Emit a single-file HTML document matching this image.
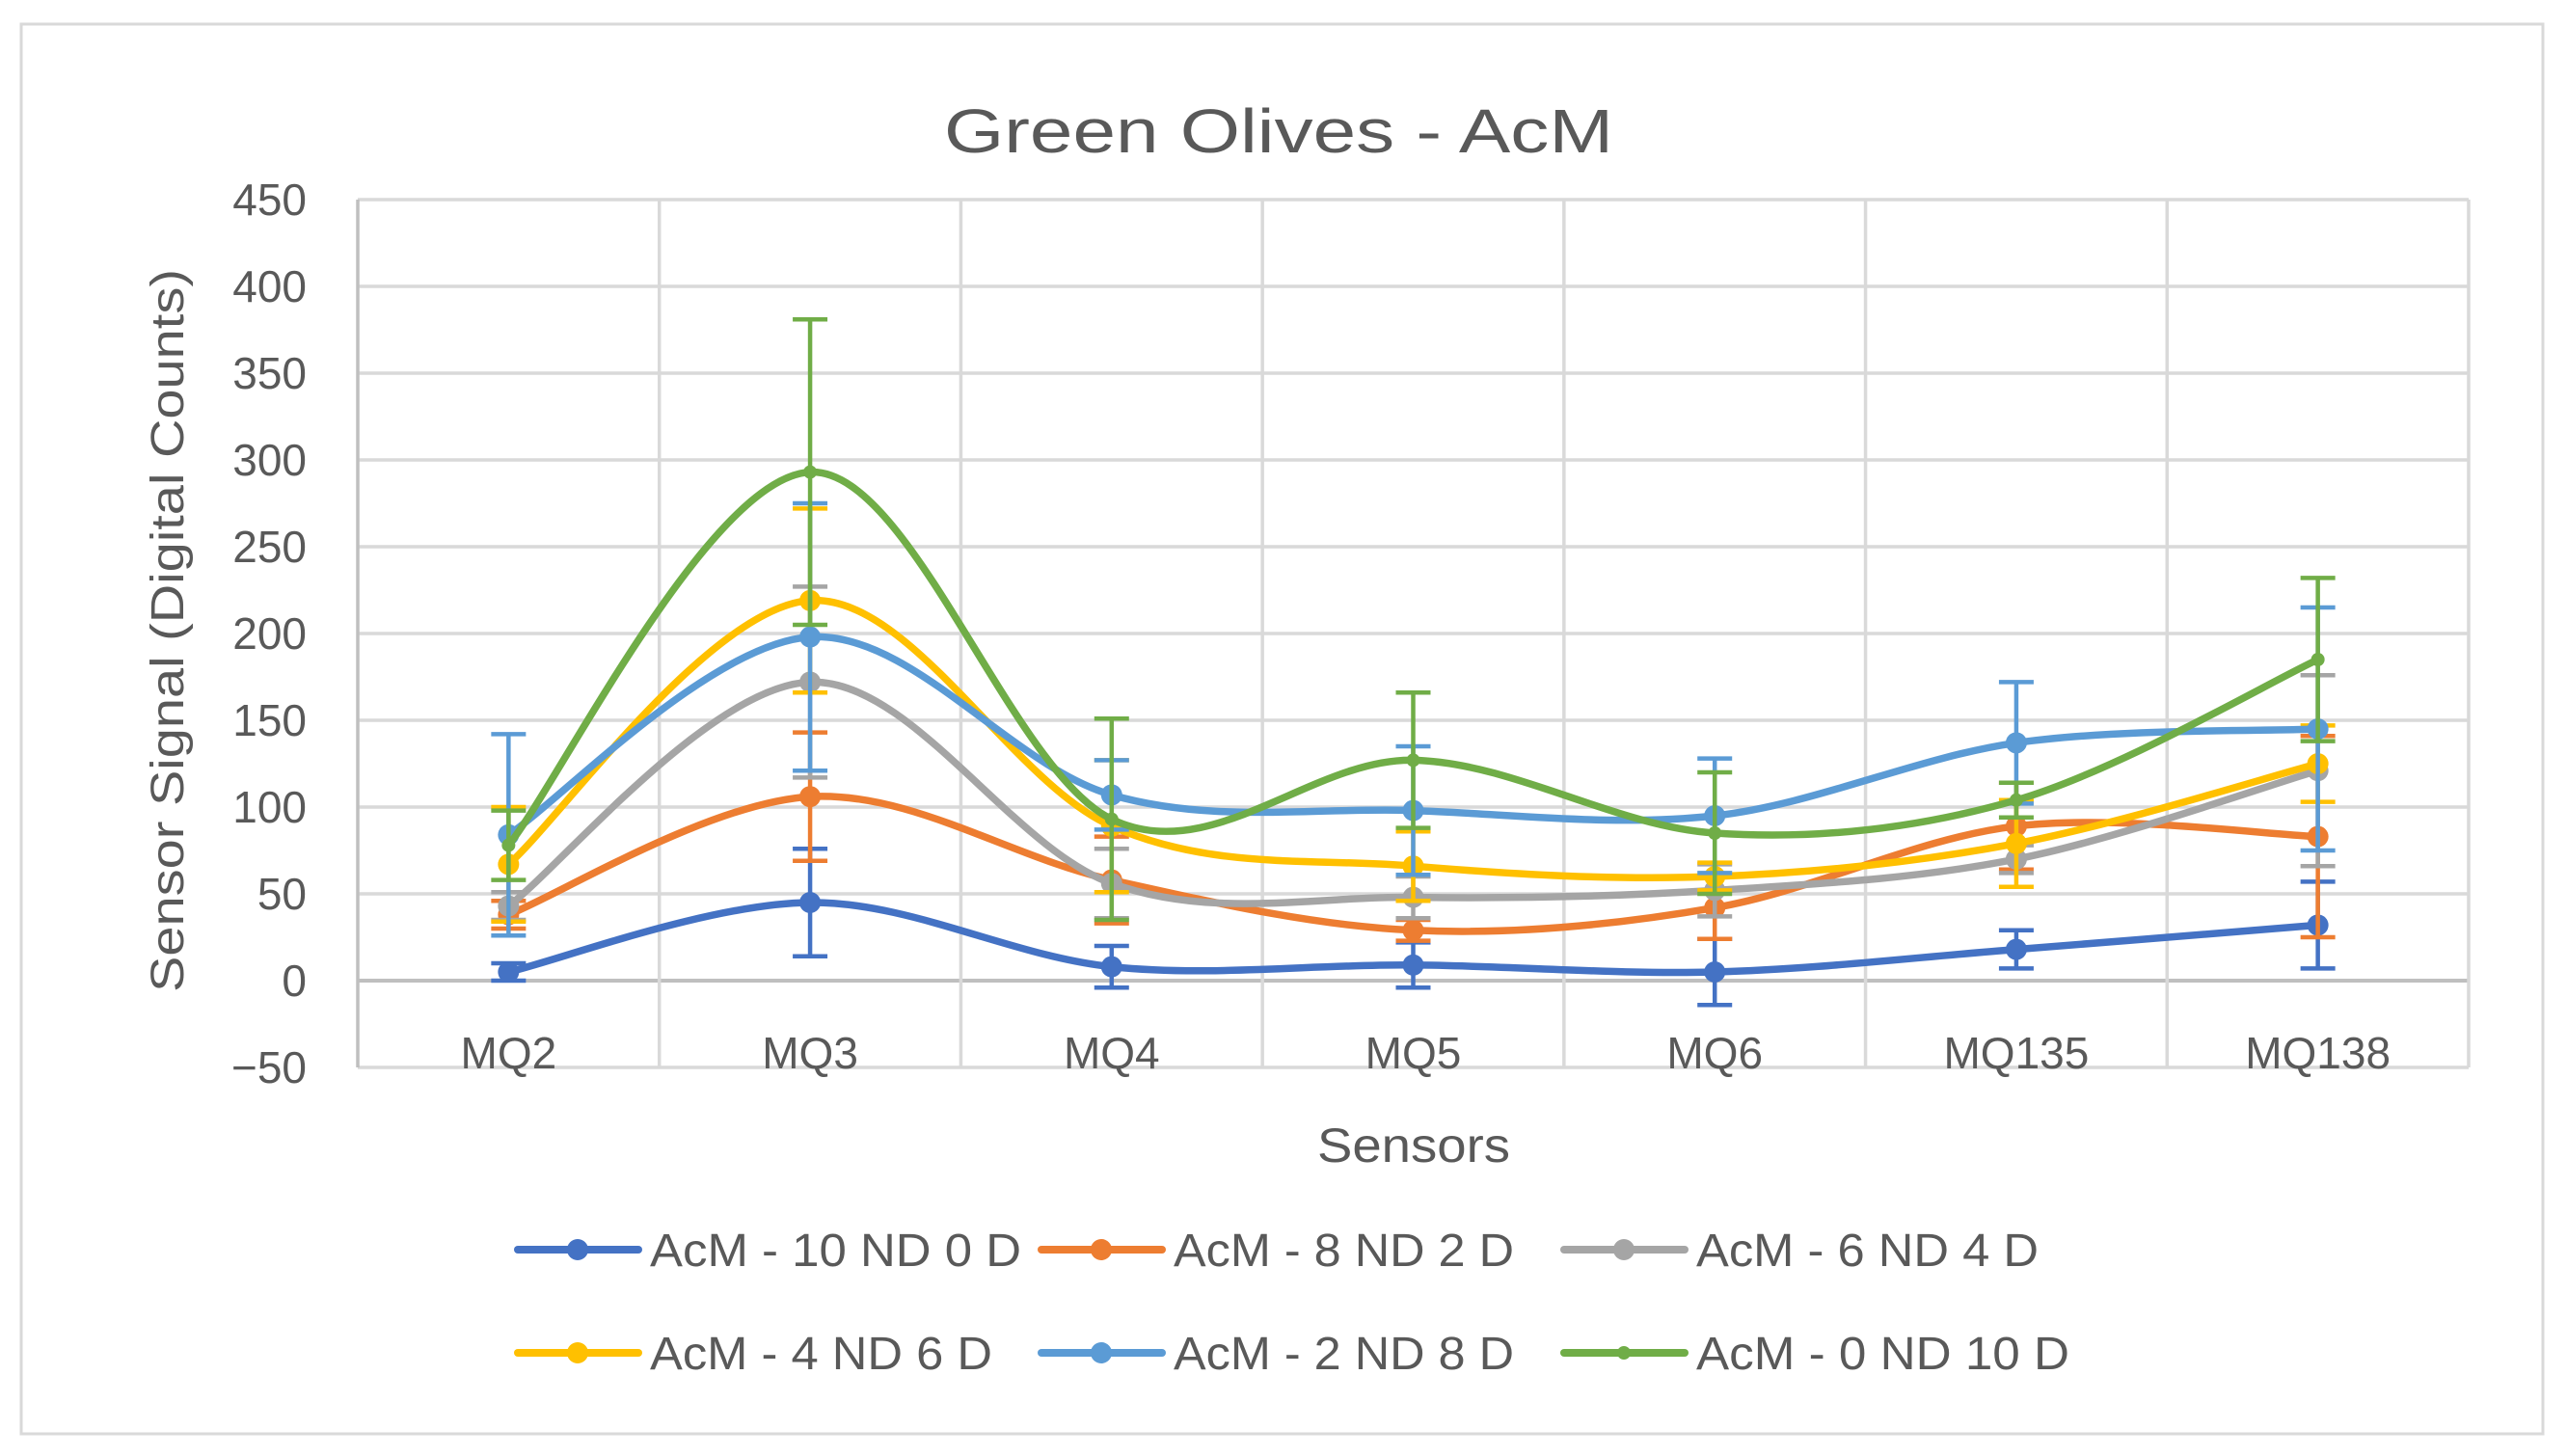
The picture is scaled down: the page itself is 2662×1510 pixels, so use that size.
<!DOCTYPE html>
<html><head><meta charset="utf-8"><style>
html,body{margin:0;padding:0;background:#fff;}
svg{display:block;font-family:"Liberation Sans",sans-serif;}
</style></head><body>
<svg id="chart" width="2662" height="1510" viewBox="0 0 2662 1510" xmlns="http://www.w3.org/2000/svg">
<rect x="22" y="25" width="2615" height="1462" fill="#fff" stroke="#d9d9d9" stroke-width="3"/>
<text x="1326" y="158" text-anchor="middle" font-size="64" fill="#595959" textLength="694" lengthAdjust="spacingAndGlyphs">Green Olives - AcM</text>
<g id="grid"></g>
<g id="yticks"></g>
<g id="xticks"></g>
<text transform="translate(190,654) rotate(-90)" text-anchor="middle" font-size="48" fill="#595959" textLength="750" lengthAdjust="spacingAndGlyphs">Sensor Signal (Digital Counts)</text>
<text x="1466" y="1205" text-anchor="middle" font-size="50" fill="#595959" textLength="200" lengthAdjust="spacingAndGlyphs">Sensors</text>
<g id="series"></g>
<g id="legend"></g>
</svg>
<script>
const categories = ["MQ2","MQ3","MQ4","MQ5","MQ6","MQ135","MQ138"];
const yTicks = [-50,0,50,100,150,200,250,300,350,400,450];
const seriesNames = ["AcM - 10 ND 0 D","AcM - 8 ND 2 D","AcM - 6 ND 4 D","AcM - 4 ND 6 D","AcM - 2 ND 8 D","AcM - 0 ND 10 D"];
const s1 = [5,45,8,9,5,18,32];
const s2 = [38,106,58,29,42,89,83];
const s3 = [43,172,56,48,52,70,121];
const s4 = [67,219,89,66,60,79,125];
const s5 = [84,198,107,98,95,137,145];
const s6 = [78,293,93,127,85,104,185];
const e1 = [5,31,12,13,19,11,25];
const e2 = [8,37,25,6,18,25,58];
const e3 = [8,55,20,12,15,8,55];
const e4 = [33,53,38,20,8,25,22];
const e5 = [58,77,20,37,33,35,70];
const e6 = [20,88,58,39,35,10,47];

const colors = ["#4472C4","#ED7D31","#A5A5A5","#FFC000","#5B9BD5","#70AD47"];
const legendWidths = [385,353,355,355,353,387];
const NS="http://www.w3.org/2000/svg";
const L=371, R=2560, T=207, B=1107, yMin=-50, yMax=450;
const cw=(R-L)/categories.length;
const xS=i=>L+cw*(i+0.5);
const yS=v=>B-(v-yMin)/(yMax-yMin)*(B-T);
function mk(tag,attrs,parent){const e=document.createElementNS(NS,tag);for(const k in attrs)e.setAttribute(k,attrs[k]);parent.appendChild(e);return e;}
const grid=document.getElementById('grid');
yTicks.forEach(t=>{
  const ln=mk('line',{x1:L,x2:R,y1:yS(t),y2:yS(t),stroke:t===0?'#bfbfbf':'#d9d9d9','stroke-width':t===0?4:3.5},grid);
  
  
  const tx=mk('text',{x:318,y:yS(t)+16,'text-anchor':'end','font-size':46,fill:'#595959'},document.getElementById('yticks'));
  tx.textContent=t<0?'\u2212'+(-t):String(t);
  
  
});
for(let i=0;i<=categories.length;i++){
  const ln=mk('line',{x1:L+cw*i,x2:L+cw*i,y1:T,y2:B,stroke:i===0?'#bfbfbf':'#d9d9d9','stroke-width':3.5},grid);
  
  
}
categories.forEach((c,i)=>{
  const tx=mk('text',{x:xS(i),y:1108,'text-anchor':'middle','font-size':46,fill:'#595959'},document.getElementById('xticks'));
  tx.textContent=c;
  
  
});
function smooth(pts){
  let d=`M${pts[0][0]},${pts[0][1]}`;const t=0.5/3*2;
  for(let i=0;i<pts.length-1;i++){
    const p0=pts[i-1]||pts[i],p1=pts[i],p2=pts[i+1],p3=pts[i+2]||p2;
    const c1=[p1[0]+(p2[0]-p0[0])*t/2,p1[1]+(p2[1]-p0[1])*t/2];
    const c2=[p2[0]-(p3[0]-p1[0])*t/2,p2[1]-(p3[1]-p1[1])*t/2];
    d+=` C${c1[0]},${c1[1]} ${c2[0]},${c2[1]} ${p2[0]},${p2[1]}`;
  }
  return d;
}
const allS=[s1,s2,s3,s4,s5,s6], allE=[e1,e2,e3,e4,e5,e6];
const sg=document.getElementById('series');
allS.forEach((s,k)=>{
  const g=mk('g',{},sg);
  
  
  const pts=s.map((v,i)=>[xS(i),yS(v)]);
  const p=mk('path',{d:smooth(pts),fill:'none',stroke:colors[k],'stroke-width':7.5,'stroke-linecap':'round'},g);
  
  
  s.forEach((v,i)=>{
    const x=xS(i),e=allE[k][i];
    const eb=mk('path',{d:`M${x},${yS(v+e)}V${yS(v-e)}M${x-18},${yS(v+e)}H${x+18}M${x-18},${yS(v-e)}H${x+18}`,stroke:colors[k],'stroke-width':4.5,fill:'none'},g);
    
    
    const c=mk('circle',{cx:x,cy:yS(v),r:k===5?7:11,fill:colors[k]},g);
    
    
  });
});
const lg=document.getElementById('legend');
const lx=[537,1080,1622], ly=[1296,1403];
seriesNames.forEach((n,k)=>{
  const x=lx[k%3], y=ly[Math.floor(k/3)];
  const g=mk('g',{},lg);
  
  
  mk('line',{x1:x,x2:x+125,y1:y,y2:y,stroke:colors[k],'stroke-width':8,'stroke-linecap':'round'},g);
  mk('circle',{cx:x+62,cy:y,r:k===5?7:11,fill:colors[k]},g);
  const t=mk('text',{x:x+137,y:y+17,'font-size':48,fill:'#595959',textLength:legendWidths[k],lengthAdjust:'spacingAndGlyphs'},g);
  t.textContent=n;
});
</script>
</body></html>
